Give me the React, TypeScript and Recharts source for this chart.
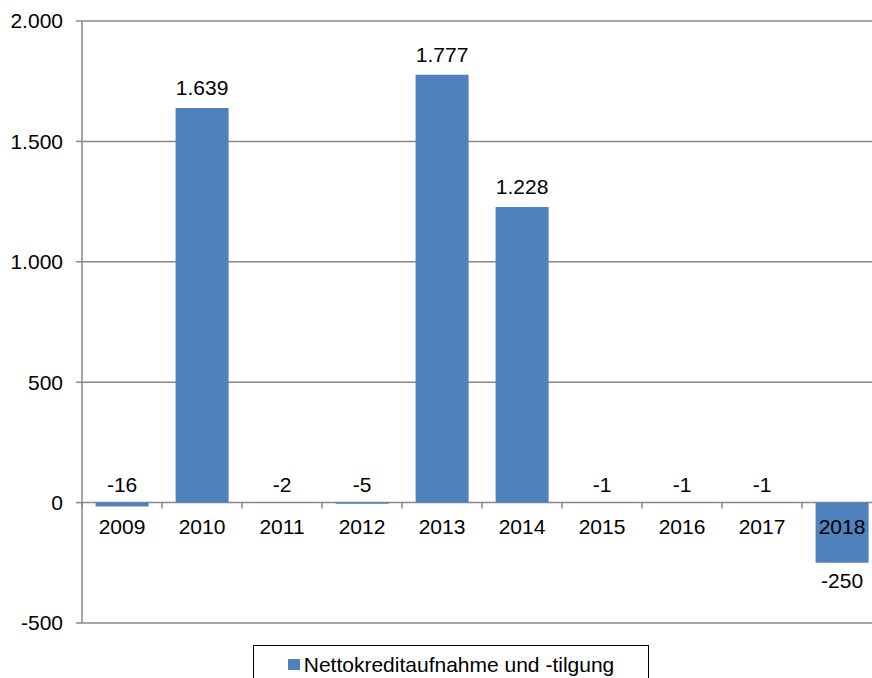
import {
  BarChart,
  Bar,
  XAxis,
  YAxis,
  CartesianGrid,
  Legend,
  LabelList,
} from "recharts";

const years = ["2009", "2010", "2011", "2012", "2013", "2014", "2015", "2016", "2017", "2018"];
const netBorrowing = [-16, 1639, -2, -5, 1777, 1228, -1, -1, -1, -250];
const yTicks = [-500, 0, 500, 1000, 1500, 2000];
const seriesName = "Nettokreditaufnahme und -tilgung";

const data = years.map((year, i) => ({ year, value: netBorrowing[i] }));

const WIDTH = 900;
const HEIGHT = 700;
const TOP = 21;
const AXIS_W = 82;
const X_AXIS_H = 30;
const PLOT_H = 602;
const BOTTOM = HEIGHT - TOP - PLOT_H - X_AXIS_H;
const Y_MIN = yTicks[0];
const Y_MAX = yTicks[yTicks.length - 1];
const ZERO_Y = TOP + (PLOT_H * Y_MAX) / (Y_MAX - Y_MIN);
const BAND = (WIDTH - AXIS_W - 18) / years.length;

const FONT = "'Liberation Sans', Arial, sans-serif";
const FONT_SIZE = 21;
const BLUE = "#4f81bd";
const GRID = "#888888";

const fmt = (v: number) => {
  const s = String(Math.abs(v)).replace(/\B(?=(\d{3})+(?!\d))/g, ".");
  return v < 0 ? "-" + s : s;
};

const CategoryTick = (props: any) => {
  const { x, payload } = props;
  const left = x - BAND / 2;
  return (
    <g>
      <line x1={left} x2={left} y1={ZERO_Y} y2={ZERO_Y + 6} stroke={GRID} strokeWidth={1.5} />
      <text
        x={x}
        y={ZERO_Y + 24}
        dy="0.355em"
        textAnchor="middle"
        fill="#000"
        fontSize={FONT_SIZE}
        fontFamily={FONT}
      >
        {payload.value}
      </text>
    </g>
  );
};

const ValueLabel = (props: any) => {
  const { x, y, width, height, value } = props;
  const cx = x + width / 2;
  let cy;
  if (value >= 0) cy = y - 20;
  else if (value > -50) cy = y + height - 18;
  else cy = y + 18;
  return (
    <text
      x={cx}
      y={cy}
      dy="0.355em"
      textAnchor="middle"
      fill="#000"
      fontSize={FONT_SIZE}
      fontFamily={FONT}
    >
      {fmt(value)}
    </text>
  );
};

const LegendBox = () => (
  <div
    style={{
      boxSizing: "border-box",
      border: "1.5px solid #000",
      height: 44,
      display: "flex",
      alignItems: "flex-start",
      justifyContent: "center",
      paddingTop: 8,
      fontFamily: FONT,
      fontSize: FONT_SIZE,
      color: "#000",
      background: "#fff",
    }}
  >
    <span
      style={{
        display: "inline-block",
        width: 12,
        height: 11,
        background: BLUE,
        marginTop: 5,
        marginRight: 4,
      }}
    />
    <span style={{ lineHeight: "22px" }}>{seriesName}</span>
  </div>
);

export default function App() {
  return (
    <div
      style={{
        position: "absolute",
        left: 0,
        top: 0,
        width: 872,
        height: 678,
        overflow: "hidden",
        background: "#fff",
      }}
    >
      <BarChart
        width={WIDTH}
        height={HEIGHT}
        data={data}
        margin={{ top: TOP, right: 18, left: 0, bottom: BOTTOM }}
        barCategoryGap="17%"
      >
        <CartesianGrid vertical={false} stroke={GRID} strokeWidth={1.5} />
        <YAxis
          width={AXIS_W}
          domain={[Y_MIN, Y_MAX]}
          ticks={yTicks}
          interval={0}
          tickFormatter={fmt}
          axisLine={{ stroke: GRID, strokeWidth: 1.5 }}
          tickLine={{ stroke: GRID, strokeWidth: 1.5 }}
          tickSize={6}
          tickMargin={13}
          tick={{ fill: "#000", fontSize: FONT_SIZE, fontFamily: FONT }}
        />
        <Bar dataKey="value" name={seriesName} fill={BLUE} isAnimationActive={false}>
          <LabelList dataKey="value" content={ValueLabel} />
        </Bar>
        <XAxis
          dataKey="year"
          height={X_AXIS_H}
          axisLine={false}
          tickLine={false}
          interval={0}
          tick={CategoryTick}
        />
        <Legend
          layout="horizontal"
          verticalAlign="middle"
          align="center"
          content={LegendBox}
          wrapperStyle={{ left: 253, top: 645, width: 396, height: 44 }}
        />
      </BarChart>
    </div>
  );
}
